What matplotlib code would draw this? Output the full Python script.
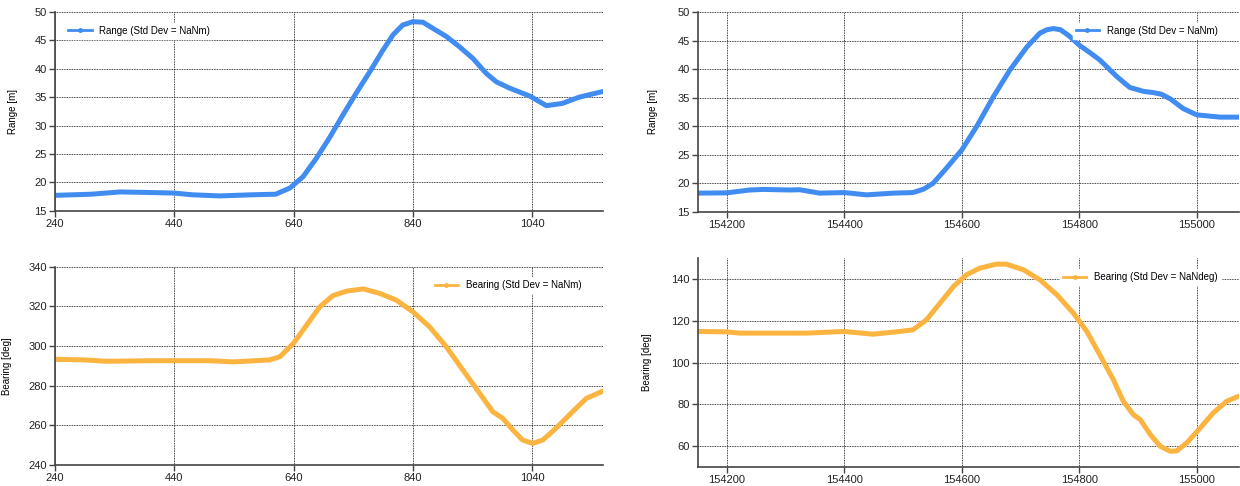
import matplotlib.pyplot as plt
import numpy as np
from matplotlib.lines import Line2D

# left pair (sample index)
rng_x1 = [240, 300, 349, 400, 440, 470, 516, 570, 610, 634, 656, 678, 700, 723, 745, 768, 790, 807, 823, 840,
          857, 874, 896, 918, 941, 963, 980, 1002, 1036, 1064, 1091, 1119, 1159]
rng_y1 = [17.7, 17.9, 18.3, 18.2, 18.1, 17.8, 17.6, 17.8, 17.9, 19.0, 21.0, 24.2, 27.8, 31.9, 35.7, 39.5, 43.3, 46.0, 47.7, 48.3,
          48.2, 47.1, 45.7, 43.9, 41.8, 39.2, 37.7, 36.6, 35.2, 33.5, 33.9, 35.0, 36.0]

brg_x1 = [240, 290, 326, 400, 440, 500, 539, 600, 617, 640, 662, 684, 706, 729, 757, 784, 812, 840, 868, 896,
          924, 952, 974, 991, 1008, 1024, 1041, 1058, 1080, 1108, 1131, 1159]
brg_y1 = [293.3, 293.0, 292.3, 292.6, 292.6, 292.6, 292.0, 293.0, 294.6, 301.4, 310.6, 319.8, 325.4, 327.7, 328.8, 326.6, 323.2, 317.3, 309.7, 299.7,
          287.9, 276.2, 266.9, 263.5, 257.6, 252.6, 250.9, 252.6, 258.5, 266.9, 273.6, 277.3]

# right pair (time)
rng_x2 = [154151, 154200, 154239, 154262, 154307, 154324, 154358, 154400, 154438, 154483, 154517, 154535, 154551, 154570, 154600,
          154625, 154654, 154682, 154711, 154733, 154745, 154756, 154768, 154783, 154800, 154818, 154835, 154864, 154886,
          154910, 154926, 154940, 154955, 154977, 155000, 155040, 155072]
rng_y2 = [18.3, 18.35, 18.85, 18.95, 18.85, 18.9, 18.3, 18.4, 18.0, 18.3, 18.4, 19.0, 20.0, 22.2, 25.85,
          29.9, 35.2, 39.85, 43.9, 46.3, 46.9, 47.1, 46.9, 45.8, 44.2, 42.9, 41.6, 38.7, 36.8,
          36.1, 35.9, 35.6, 34.8, 33.1, 32.0, 31.6, 31.6]

brg_x2 = [154151, 154200, 154222, 154279, 154336, 154400, 154449, 154495, 154517, 154540, 154563, 154586, 154608, 154631, 154659,
          154676, 154705, 154733, 154762, 154790, 154813, 154835, 154858, 154875, 154892, 154904, 154921, 154938, 154955,
          154966, 154983, 155006, 155028, 155051, 155071]
brg_y2 = [114.9, 114.7, 114.1, 114.1, 114.1, 114.9, 113.6, 114.9, 115.7, 120.5, 128.5, 136.5, 142.1, 145.3, 147.2,
          147.2, 144.5, 139.7, 132.5, 123.7, 114.9, 103.7, 91.8, 81.4, 75.0, 72.6, 65.4, 59.8, 57.4,
          57.6, 61.4, 68.6, 75.8, 81.4, 83.8]

BLUE = '#418CF0'
ORANGE = '#FCB441'
FONT = 'Liberation Sans'

fig = plt.figure(figsize=(12.4, 4.86), dpi=100)


def styleAx(ax, xt, yt, xlim, ylim, ylab, labx):
    ax.set_xlim(xlim)
    ax.set_ylim(ylim)
    ax.set_xticks(xt)
    ax.set_yticks(yt)
    ax.set_xticklabels([str(v) for v in xt], fontsize=8, family=FONT)
    ax.set_yticklabels([str(v) for v in yt], fontsize=8, family=FONT)
    ax.grid(True, color='black', linestyle=(0, (1, 1)), linewidth=0.6)
    ax.set_axisbelow(True)
    for s in ['top', 'right']:
        ax.spines[s].set_visible(False)
    for s in ['left', 'bottom']:
        ax.spines[s].set_color('#444444')
        ax.spines[s].set_linewidth(1.2)
    ax.tick_params(length=4, width=1, color='#444444', pad=2, labelcolor='#222222')
    ax.set_ylabel(ylab, fontsize=7, family=FONT)
    ax.yaxis.set_label_coords(labx, 0.5)


def addLegend(ax, col, txt, loc, anchor):
    h = Line2D([0], [0], color=col, lw=2, marker='o', markersize=2.5)
    leg = ax.legend([h], [txt], loc=loc, bbox_to_anchor=anchor, frameon=True, fancybox=False,
                    edgecolor='white', framealpha=1, handlelength=2.4,
                    prop={'family': FONT, 'size': 7}, borderpad=0.3)
    return leg


# top left
a1 = fig.add_axes([0.0444, 0.5665, 0.4419, 0.4088])
a1.plot(rng_x1, rng_y1, color=BLUE, lw=3.6, solid_capstyle='round', solid_joinstyle='round')
styleAx(a1, [240, 440, 640, 840, 1040], [15, 20, 25, 30, 35, 40, 45, 50], (240, 1159), (15, 50), 'Range [m]', -0.068)
addLegend(a1, BLUE, 'Range (Std Dev = NaNm)', 'upper left', (0.01, 0.97))

# bottom left
a2 = fig.add_axes([0.0444, 0.0432, 0.4419, 0.408])
a2.plot(brg_x1, brg_y1, color=ORANGE, lw=3.6, solid_capstyle='round', solid_joinstyle='round')
styleAx(a2, [240, 440, 640, 840, 1040], [240, 260, 280, 300, 320, 340], (240, 1159), (240, 340), 'Bearing [deg]', -0.078)
addLegend(a2, ORANGE, 'Bearing (Std Dev = NaNm)', 'upper right', (0.975, 0.97))

# top right
a3 = fig.add_axes([0.5629, 0.5638, 0.4363, 0.4115])
a3.plot(rng_x2, rng_y2, color=BLUE, lw=3.6, solid_capstyle='round', solid_joinstyle='round')
styleAx(a3, [154200, 154400, 154600, 154800, 155000], [15, 20, 25, 30, 35, 40, 45, 50], (154151, 155072), (15, 50), 'Range [m]', -0.074)
addLegend(a3, BLUE, 'Range (Std Dev = NaNm)', 'upper right', (0.975, 0.97))

# bottom right
a4 = fig.add_axes([0.5629, 0.0397, 0.4363, 0.4288])
a4.plot(brg_x2, brg_y2, color=ORANGE, lw=3.6, solid_capstyle='round', solid_joinstyle='round')
styleAx(a4, [154200, 154400, 154600, 154800, 155000], [60, 80, 100, 120, 140], (154151, 155072), (50, 150), 'Bearing [deg]', -0.085)
addLegend(a4, ORANGE, 'Bearing (Std Dev = NaNdeg)', 'upper right', (0.975, 0.97))

fig.savefig('out.png', dpi=100)
